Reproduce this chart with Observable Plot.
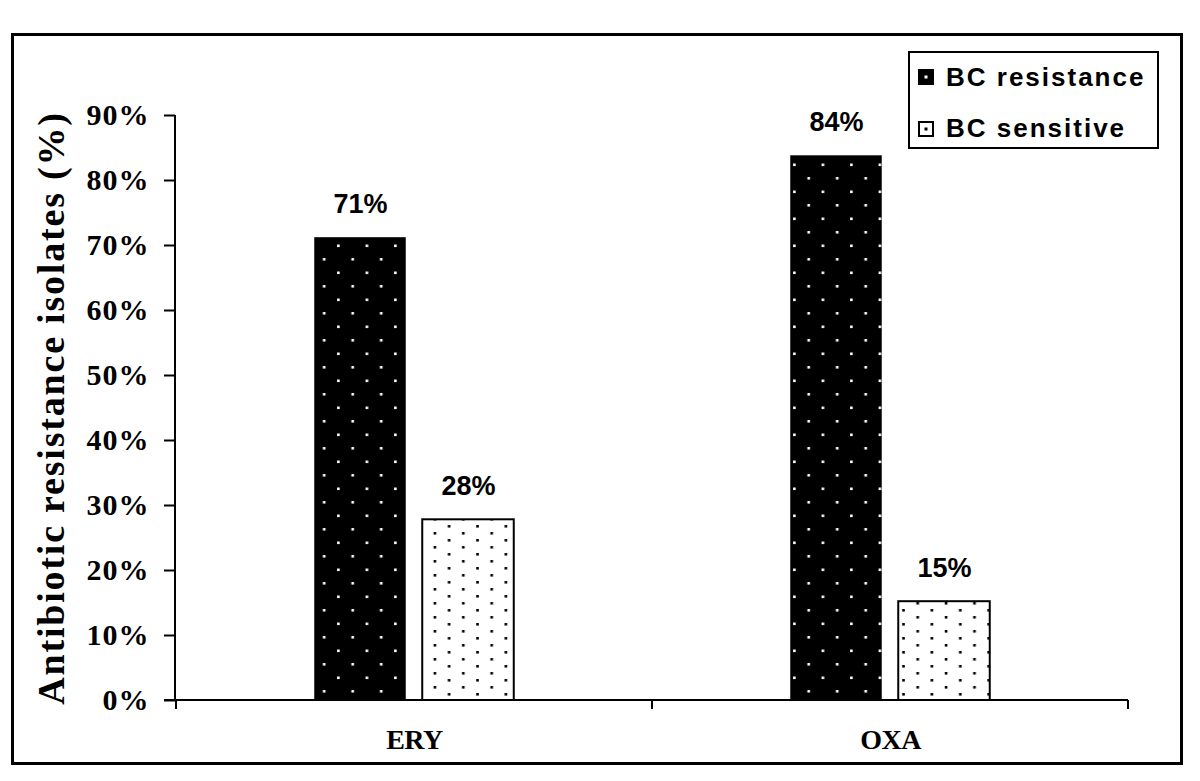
<!DOCTYPE html>
<html><head><meta charset="utf-8">
<script src="https://cdn.jsdelivr.net/npm/d3@7"></script>
<script src="https://cdn.jsdelivr.net/npm/@observablehq/plot@0.6"></script>
<style>
html,body{margin:0;padding:0;background:#fff;}
#wrap{position:relative;width:1200px;height:781px;overflow:hidden;background:#fff;}
#frame{position:absolute;left:11px;top:33px;width:1172px;height:732px;border:3px solid #000;box-sizing:border-box;pointer-events:none;}
#legend{position:absolute;left:908px;top:51px;width:251px;height:98px;border:2.5px solid #000;box-sizing:border-box;background:#fff;font-family:"Liberation Sans",Arial,sans-serif;font-weight:bold;font-size:26px;letter-spacing:2px;color:#000;}
.item{position:absolute;left:8px;display:flex;align-items:center;height:30px;white-space:nowrap;}
.item svg{margin-right:12px;flex:none;}
</style></head>
<body>
<svg width="0" height="0" style="position:absolute">
  <defs>
    <pattern id="patRes" patternUnits="userSpaceOnUse" width="28.5" height="27">
      <rect width="28.5" height="27" fill="#000"></rect>
      <rect x="9.4" y="15" width="2.6" height="2.6" fill="#fff"></rect>
      <rect x="23.6" y="1.5" width="2.6" height="2.6" fill="#fff"></rect>
    </pattern>
    <pattern id="patSen" patternUnits="userSpaceOnUse" width="28.4" height="14">
      <rect width="28.4" height="14" fill="#fff"></rect>
      <rect x="7.6" y="0" width="2.6" height="2.6" fill="#000"></rect>
      <rect x="21.8" y="7" width="2.6" height="2.6" fill="#000"></rect>
    </pattern>
  </defs>
</svg>
<div id="wrap"></div>
<script>
const categories = ["ERY", "OXA"];
const seriesNames = ["BC resistance", "BC sensitive"];
const resistanceValues = [71.2, 83.8];
const sensitiveValues = [27.8, 15.2];
const yTicks = [0, 10, 20, 30, 40, 50, 60, 70, 80, 90];
const yTitle = "Antibiotic resistance isolates (%)";

const W = 1200, H = 781;
const mL = 175, mR = 72, mT = 115, mB = 81;
const BAR_W = 92, GAP = 16;
const bw = (W - mL - mR) / categories.length;

const rows = categories.flatMap((c, i) => [
  {cat: c, series: seriesNames[0], value: resistanceValues[i]},
  {cat: c, series: seriesNames[1], value: sensitiveValues[i]}
]);
const resRows = rows.filter(d => d.series === seriesNames[0]);
const senRows = rows.filter(d => d.series === seriesNames[1]);

const serif = "Liberation Serif, Times New Roman, serif";
const sans = "Liberation Sans, Arial, sans-serif";
const NS = "http://www.w3.org/2000/svg";
const tickFmt = d => d + "%";

function axisLines(index, scales) {
  const x = scales.x, y = scales.y;
  const [x0, x1] = x.range();
  const y0 = y(0), yTop = y(yTicks[yTicks.length - 1]);
  const g = document.createElementNS(NS, "g");
  g.setAttribute("stroke", "#000");
  g.setAttribute("stroke-width", "2");
  const line = (a, b, c, d) => {
    const l = document.createElementNS(NS, "line");
    l.setAttribute("x1", a); l.setAttribute("y1", b);
    l.setAttribute("x2", c); l.setAttribute("y2", d);
    g.appendChild(l);
  };
  line(x0, yTop, x0, y0);
  line(x0 - 11, y0, x1, y0);
  const bounds = x.domain().map(d => x(d)).concat([x1]);
  bounds.forEach(b => line(b, y0, b, y0 + 9));
  return g;
}

const chart = Plot.plot({
  width: W, height: H,
  marginLeft: mL, marginRight: mR, marginTop: mT, marginBottom: mB,
  style: {background: "transparent", color: "#000", overflow: "visible"},
  x: {type: "band", domain: categories, padding: 0},
  y: {domain: [0, 90]},
  marks: [
    Plot.barY(resRows, {x: "cat", y: "value", fill: "url(#patRes)",
      insetLeft: bw / 2 - GAP / 2 - BAR_W, insetRight: bw / 2 + GAP / 2}),
    Plot.barY(senRows, {x: "cat", y: "value", fill: "url(#patSen)", stroke: "#000", strokeWidth: 2,
      insetLeft: bw / 2 + GAP / 2, insetRight: bw / 2 - GAP / 2 - BAR_W}),
    Plot.text(resRows, {x: "cat", y: "value", text: d => Math.round(d.value) + "%",
      dx: -(GAP / 2 + BAR_W / 2), dy: -33, fontSize: 27, fontWeight: "bold", fontFamily: sans, fill: "#000"}),
    Plot.text(senRows, {x: "cat", y: "value", text: d => Math.round(d.value) + "%",
      dx: (GAP / 2 + BAR_W / 2), dy: -33, fontSize: 27, fontWeight: "bold", fontFamily: sans, fill: "#000"}),
    Plot.axisY({ticks: yTicks, tickFormat: tickFmt, tickSize: 11, tickPadding: 15,
      fontSize: 29, fontWeight: "bold", fontFamily: serif, strokeWidth: 2, label: null}),
    Plot.axisX({tickSize: 0, tickPadding: 29, fontSize: 28, fontWeight: "bold", fontFamily: serif, label: null}),
    Plot.text([yTitle], {frameAnchor: "left", textAnchor: "middle", rotate: -90, dx: -124, fontSize: 38,
      fontWeight: "bold", fontFamily: serif, fill: "#000"}),
    axisLines
  ]
});

const wrap = document.getElementById("wrap");
wrap.appendChild(chart);

const tickLabels = new Set(yTicks.map(tickFmt));
const catLabels = new Set(categories);
d3.select(chart).selectAll("text").each(function() {
  const t = this.textContent;
  if (tickLabels.has(t)) {
    this.style.fontSize = "30px";
    this.style.letterSpacing = "1px";
    this.style.fontFamily = serif;
    this.style.fontWeight = "bold";
  } else if (catLabels.has(t)) {
    this.style.fontSize = "28px";
    this.style.letterSpacing = "-0.5px";
    this.style.fontFamily = serif;
    this.style.fontWeight = "bold";
  } else if (t === yTitle) {
    this.style.letterSpacing = "1.8px";
  }
});

const frame = document.createElement("div");
frame.id = "frame";
wrap.appendChild(frame);

const legend = document.createElement("div");
legend.id = "legend";
const swatches = [
  {bg: "#000", dot: "#fff", border: "#000"},
  {bg: "#fff", dot: "#000", border: "#000"}
];
const itemTops = [9, 60.5];
seriesNames.forEach((name, i) => {
  const it = document.createElement("div");
  it.className = "item";
  it.style.top = itemTops[i] + "px";
  const s = swatches[i];
  it.innerHTML = `<svg width="16" height="16"><rect x="1" y="1" width="14" height="14" fill="${s.bg}" stroke="${s.border}" stroke-width="2"></rect><rect x="6.5" y="6.5" width="3" height="3" fill="${s.dot}"></rect></svg><span>${name}</span>`;
  legend.appendChild(it);
});
wrap.appendChild(legend);
</script>
</body></html>
